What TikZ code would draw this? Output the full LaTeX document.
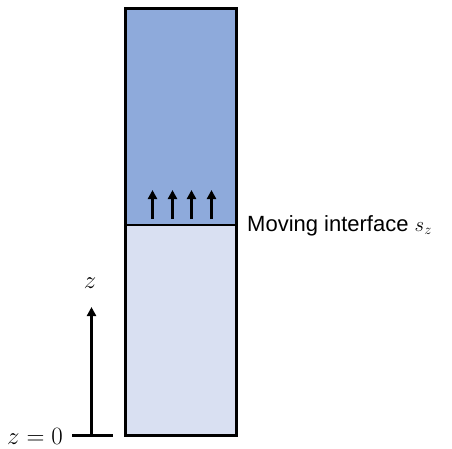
\documentclass[tikz,border=0pt]{standalone}
\usepackage{fontspec}
\setmainfont{Liberation Sans}
\usetikzlibrary{arrows.meta}
\definecolor{topblue}{HTML}{8EAADB}
\definecolor{botblue}{HTML}{D9E0F2}
\begin{document}
\begin{tikzpicture}[x=1pt,y=-1pt,
  upar/.style={line width=3pt,-{Triangle[length=9pt,width=9pt]}},
  lbl/.style={font=\fontsize{22}{26}\selectfont,inner sep=0pt},
  mlbl/.style={font=\fontsize{23}{27}\selectfont,inner sep=0pt}]
\useasboundingbox (0,0) rectangle (452,448);
\fill[botblue] (125.5,225) rectangle (236.5,435.5);
\fill[topblue] (125.5,8.5) rectangle (236.5,225);
\draw[line width=2pt] (125.5,225) -- (236.5,225);
\draw[line width=3pt] (125.5,8.5) rectangle (236.5,435.5);
\foreach \x/\n in {152.5/a,172.5/b,191.5/c,211.5/d}{
  \coordinate (s\n) at (\x,219);
  \coordinate (e\n) at (\x,190);
  \draw[upar] (s\n) -- (e\n);
}
\node[lbl,anchor=west] (mi) at (247,226) {Moving interface $s_z$};
\coordinate (z0) at (91.5,435.5);
\coordinate (ztop) at (91.5,307);
\coordinate (tl) at (72,435.5);
\coordinate (tr) at (113,435.5);
\draw[line width=3pt] (tl) -- (tr);
\draw[upar] (z0) -- (ztop);
\node[mlbl] (zl) at (90,283) {$z$};
\node[mlbl,anchor=east] (z0l) at (63,436) {$z=0$};
\end{tikzpicture}
\end{document}
